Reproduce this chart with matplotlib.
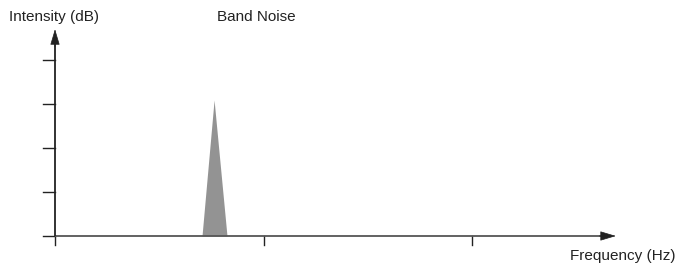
import matplotlib
matplotlib.use("Agg")
import matplotlib.pyplot as plt

plt.rcParams["font.family"] = ["Liberation Sans", "DejaVu Sans"]

# band noise spike (frequency in tick units, intensity in tick units)
freq = [0.705, 0.763, 0.825]
intensity = [0.0, 3.09, 0.0]
x_ticks = [0, 1, 2]
y_ticks = [0, 1, 2, 3, 4]

W, H = 677, 264
fig = plt.figure(figsize=(W / 100, H / 100), dpi=100)

# axes box in pixel terms -> figure fraction
left, right, top, bottom = 35, 630, 20, 250
ax = fig.add_axes([left / W, 1 - bottom / H, (right - left) / W, (bottom - top) / H])
ax.set_xlim((left - 55) / 208.5, (right - 55) / 208.5)
ax.set_ylim((236 - bottom) / 44.0, (236 - top) / 44.0)
ax.patch.set_visible(False)

ax.fill_between(freq, intensity, 0, color="#939393", linewidth=0, zorder=2)

axis_color = "#222222"
x_tip, y_tip = 2.69, 4.70
ax.plot([0, x_tip - 0.05], [0, 0], color="#555555", lw=1.3, zorder=3, solid_capstyle="butt")
ax.plot([0, 0], [0, y_tip - 0.25], color=axis_color, lw=1.3, zorder=3, solid_capstyle="butt")
head = dict(arrowstyle="-|>,head_length=1.0,head_width=0.3", color=axis_color, lw=0.5,
            mutation_scale=10, shrinkA=0, shrinkB=0)
ax.annotate("", xy=(x_tip, 0), xytext=(x_tip - 0.08, 0), arrowprops=head,
            annotation_clip=False)
ax.annotate("", xy=(0, y_tip), xytext=(0, y_tip - 0.4), arrowprops=head,
            annotation_clip=False)

for sp in ax.spines.values():
    sp.set_visible(False)
ax.set_xticks([])
ax.set_yticks([])

# tick marks
for t in x_ticks:
    ax.plot([t, t], [0, -0.21], color=axis_color, lw=1.0)
for t in y_ticks:
    ax.plot([-0.058, 0], [t, t], color=axis_color, lw=1.0)

fig.text(9 / W, 1 - 17 / H, "Intensity (dB)", fontsize=11, va="center", ha="left", color="#222222")
fig.text(217 / W, 1 - 17 / H, "Band Noise", fontsize=11, va="center", ha="left", color="#222222")
fig.text(676 / W, 1 - 256 / H, "Frequency (Hz)", fontsize=11, va="center", ha="right", color="#222222")

fig.savefig("out.png", dpi=100)
